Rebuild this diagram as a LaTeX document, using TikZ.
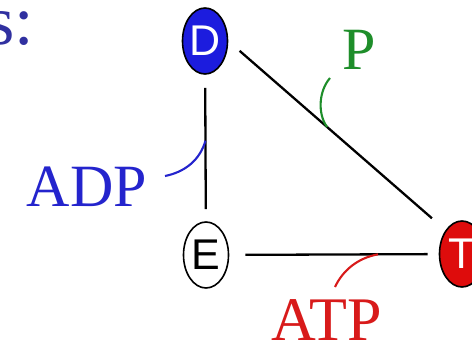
\documentclass[tikz,border=0pt]{standalone}
\usepackage{fontspec}
\setmainfont{Liberation Serif}
\newfontfamily\letterfont{Liberation Sans}
\usepackage{tikz}
\usepackage{xcolor}
\usetikzlibrary{shapes.geometric}

\definecolor{slateblue}{RGB}{48,48,160}
\definecolor{dblue}{RGB}{28,28,222}
\definecolor{tred}{RGB}{222,12,12}
\definecolor{adpblue}{RGB}{36,36,205}
\definecolor{pgreen}{RGB}{30,142,42}
\definecolor{atpred}{RGB}{216,26,26}

\tikzset{
  enzyme/.style={ellipse, draw=black, line width=1.6pt, minimum width=45pt, minimum height=66pt, inner sep=0pt, font=\letterfont\fontsize{43}{43}\selectfont},
  link/.style={line width=2.3pt},
  tag/.style={inner sep=0pt, font=\fontsize{60}{60}\selectfont},
  hook/.style={line width=2.1pt}
}

\begin{document}
\begin{tikzpicture}[x=1pt,y=-1pt]
\clip (0,0) rectangle (472,348);
\fill[white] (0,0) rectangle (472,348);

\node[enzyme, fill=dblue, text=white] (D) at (205,41) {D};
\node[enzyme, fill=white] (E) at (206,255) {E};
\node[enzyme, fill=tred, text=white] (T) at (462,254) {T};

\draw[link, shorten <=13pt, shorten >=12pt] (D) -- (E) coordinate[pos=0.45] (dE);
\draw[link, shorten <=15pt, shorten >=18pt] (D.east) -- (T.north west) coordinate[pos=0.455] (dT);
\draw[link, shorten <=16pt, shorten >=11pt] (E) -- (T) coordinate[pos=0.71] (eT);

\node[tag, text=slateblue, anchor=base west, font=\fontsize{70}{70}\selectfont] (s) at (-13,45) {s:};
\node[tag, text=adpblue] (ADP) at (87,187) {ADP};
\node[tag, text=pgreen] (P) at (359,50) {P};
\node[tag, text=atpred, font=\fontsize{62}{62}\selectfont] (ATP) at (327,320) {ATP};

\coordinate (adpEnd) at (165,176);
\coordinate (pEnd) at (330,78);
\coordinate (atpEnd) at (335,287);

\draw[hook, adpblue] (adpEnd) .. controls (185,172) and (200,160) .. (dE);
\draw[hook, pgreen] (pEnd) .. controls (318,92) and (318,115) .. (dT);
\draw[hook, atpred] (atpEnd) .. controls (343,270) and (358,258) .. (eT);
\end{tikzpicture}
\end{document}
